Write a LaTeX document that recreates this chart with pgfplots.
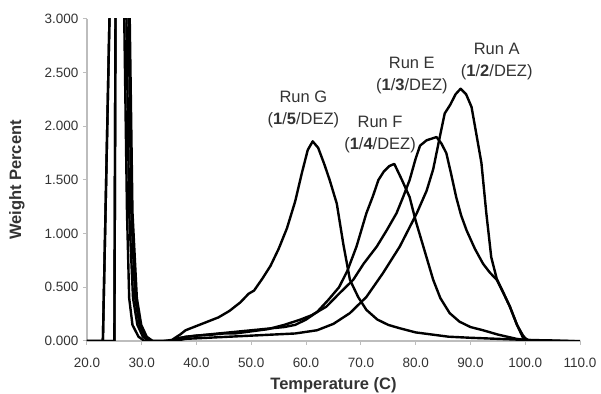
\documentclass[border=0pt]{standalone}
\usepackage{pgfplots}
\pgfplotsset{compat=1.18}
\usepackage{pgfplotstable}
\usepackage{fontspec}
\setmainfont{Liberation Sans}
\usetikzlibrary{calc}

\definecolor{txt}{HTML}{333333}
\definecolor{axgray}{HTML}{BDBDBD}

% Temperature (C) vs. weight percent
\pgfplotstableread{
T W
20.0 0
22.9 0
24.1 3.0
25.5 7.0
26.8 3.0
27.3 1.2
27.7 0.4
28.3 0.15
29.4 0.04
30.5 0
36.0 0
38.0 0.02
42.0 0.03
46.0 0.04
50.0 0.05
54.0 0.06
58.0 0.07
62.0 0.10
65.0 0.16
68.0 0.26
71.0 0.41
74.0 0.63
77.1 0.88
80.2 1.19
82.0 1.40
83.2 1.60
84.4 1.90
85.3 2.12
86.3 2.20
87.3 2.30
88.2 2.35
89.2 2.30
90.2 2.18
91.0 1.95
92.0 1.66
92.9 1.19
93.8 0.78
94.8 0.58
96.0 0.45
97.2 0.32
98.5 0.15
99.6 0.05
100.5 0
109.0 0
}\runA

\pgfplotstableread{
T W
20.0 0
25.0 0
25.2 3.0
26.0 7.0
27.2 3.0
27.7 1.2
28.4 0.4
29.2 0.15
30.2 0.04
31.3 0
35.0 0
37.0 0.03
40.0 0.05
43.0 0.06
45.0 0.07
47.0 0.07
50.0 0.09
53.0 0.11
56.0 0.15
59.0 0.20
61.0 0.24
63.7 0.32
66.0 0.44
68.6 0.57
70.5 0.72
72.9 0.88
74.7 1.03
76.5 1.19
77.7 1.34
78.9 1.50
80.0 1.70
80.8 1.82
82.0 1.87
83.8 1.90
84.7 1.84
85.6 1.75
86.5 1.55
87.4 1.34
88.3 1.17
89.3 1.03
90.8 0.86
92.3 0.72
93.5 0.64
94.8 0.57
96.0 0.45
97.2 0.32
98.5 0.15
99.6 0.03
101.0 0
110.0 0
}\runE

\pgfplotstableread{
T W
20.0 0
25.0 0
25.2 3.0
26.2 7.0
27.6 3.0
28.1 1.2
28.8 0.4
29.6 0.15
30.6 0.04
31.8 0
35.0 0
36.5 0.02
38.0 0.04
40.0 0.05
42.0 0.06
44.0 0.07
46.0 0.08
48.0 0.09
50.0 0.10
52.0 0.11
54.0 0.12
56.0 0.13
58.0 0.15
60.0 0.20
62.0 0.27
64.0 0.38
66.0 0.50
67.5 0.65
69.2 0.88
71.0 1.19
72.2 1.35
73.2 1.50
74.2 1.58
75.2 1.63
76.1 1.65
77.5 1.50
78.9 1.34
80.0 1.12
81.4 0.88
83.2 0.57
84.5 0.40
86.2 0.26
88.0 0.18
90.0 0.13
92.3 0.10
95.0 0.06
98.4 0.02
100.0 0.01
104.0 0
}\runF

\pgfplotstableread{
T W
20.0 0
22.9 0
24.1 3.0
25.8 7.0
27.8 3.0
28.3 1.2
29.1 0.4
29.9 0.15
30.9 0.04
32.0 0
34.0 0
35.5 0.01
37.0 0.06
38.0 0.10
40.0 0.14
42.0 0.18
44.0 0.22
46.0 0.28
48.0 0.36
49.5 0.44
50.5 0.47
52.0 0.58
53.5 0.70
55.0 0.86
56.5 1.05
58.0 1.30
59.2 1.56
60.3 1.78
61.2 1.86
62.2 1.80
63.3 1.65
64.3 1.50
65.6 1.28
66.8 0.90
68.0 0.57
69.5 0.41
71.0 0.29
73.0 0.20
75.0 0.15
77.0 0.12
80.0 0.08
83.0 0.06
86.0 0.04
90.0 0.03
95.0 0.02
100.0 0.01
105.0 0.005
108.0 0
}\runG

\newcommand{\annfont}{\fontsize{16.5}{22}\selectfont}
\tikzset{run/.style={black, no markers, line width=2.4pt, line join=round}}

\begin{document}
\begin{tikzpicture}
\begin{axis}[
  name=ax,
  scale only axis,
  width=493pt, height=322pt,
  xmin=20, xmax=110, ymin=0, ymax=3,
  axis lines=left,
  axis line style={-, axgray, line width=1.2pt},
  tick style={axgray, line width=1pt},
  tick align=outside,
  major tick length=4pt,
  xtick={20,30,...,110},
  xticklabels={20.0,30.0,40.0,50.0,60.0,70.0,80.0,90.0,100.0,110.0},
  ytick={0,0.5,...,3},
  yticklabels={0.000,0.500,1.000,1.500,2.000,2.500,3.000},
  ticklabel style={font=\fontsize{13.5}{16}\selectfont, text=txt},
  xticklabel style={yshift=-10pt},
  yticklabel style={xshift=-1pt},
  xlabel={Temperature (C)},
  ylabel={Weight Percent},
  label style={font=\fontsize{16.5}{19}\selectfont\bfseries, text=txt, inner sep=0pt},
  xlabel style={at={(axis description cs:0.5,-0.1366)}, anchor=center},
  ylabel style={at={(axis description cs:-0.142,0.5)}, anchor=center},
]
\addplot[run] table[x=T, y=W] {\runA};
\addplot[run] table[x=T, y=W] {\runE};
\addplot[run] table[x=T, y=W] {\runF};
\addplot[run] table[x=T, y=W] {\runG};

\node[font=\annfont, text=txt, align=center, inner sep=0pt] at (axis cs:59.5,2.16)
  {Run G\\(\textbf{1}/\textbf{5}/DEZ)};
\node[font=\annfont, text=txt, align=center, inner sep=0pt] at (axis cs:73.5,1.92)
  {Run F\\(\textbf{1}/\textbf{4}/DEZ)};
\node[font=\annfont, text=txt, align=center, inner sep=0pt] at (axis cs:79.3,2.47)
  {Run E\\(\textbf{1}/\textbf{3}/DEZ)};
\node[font=\annfont, text=txt, align=center, inner sep=0pt] at (axis cs:94.8,2.60)
  {Run A\\(\textbf{1}/\textbf{2}/DEZ)};
\end{axis}
\path ($(ax.south west)+(-87pt,-53pt)$) rectangle ($(ax.north east)+(21pt,19pt)$);
\end{tikzpicture}
\end{document}
